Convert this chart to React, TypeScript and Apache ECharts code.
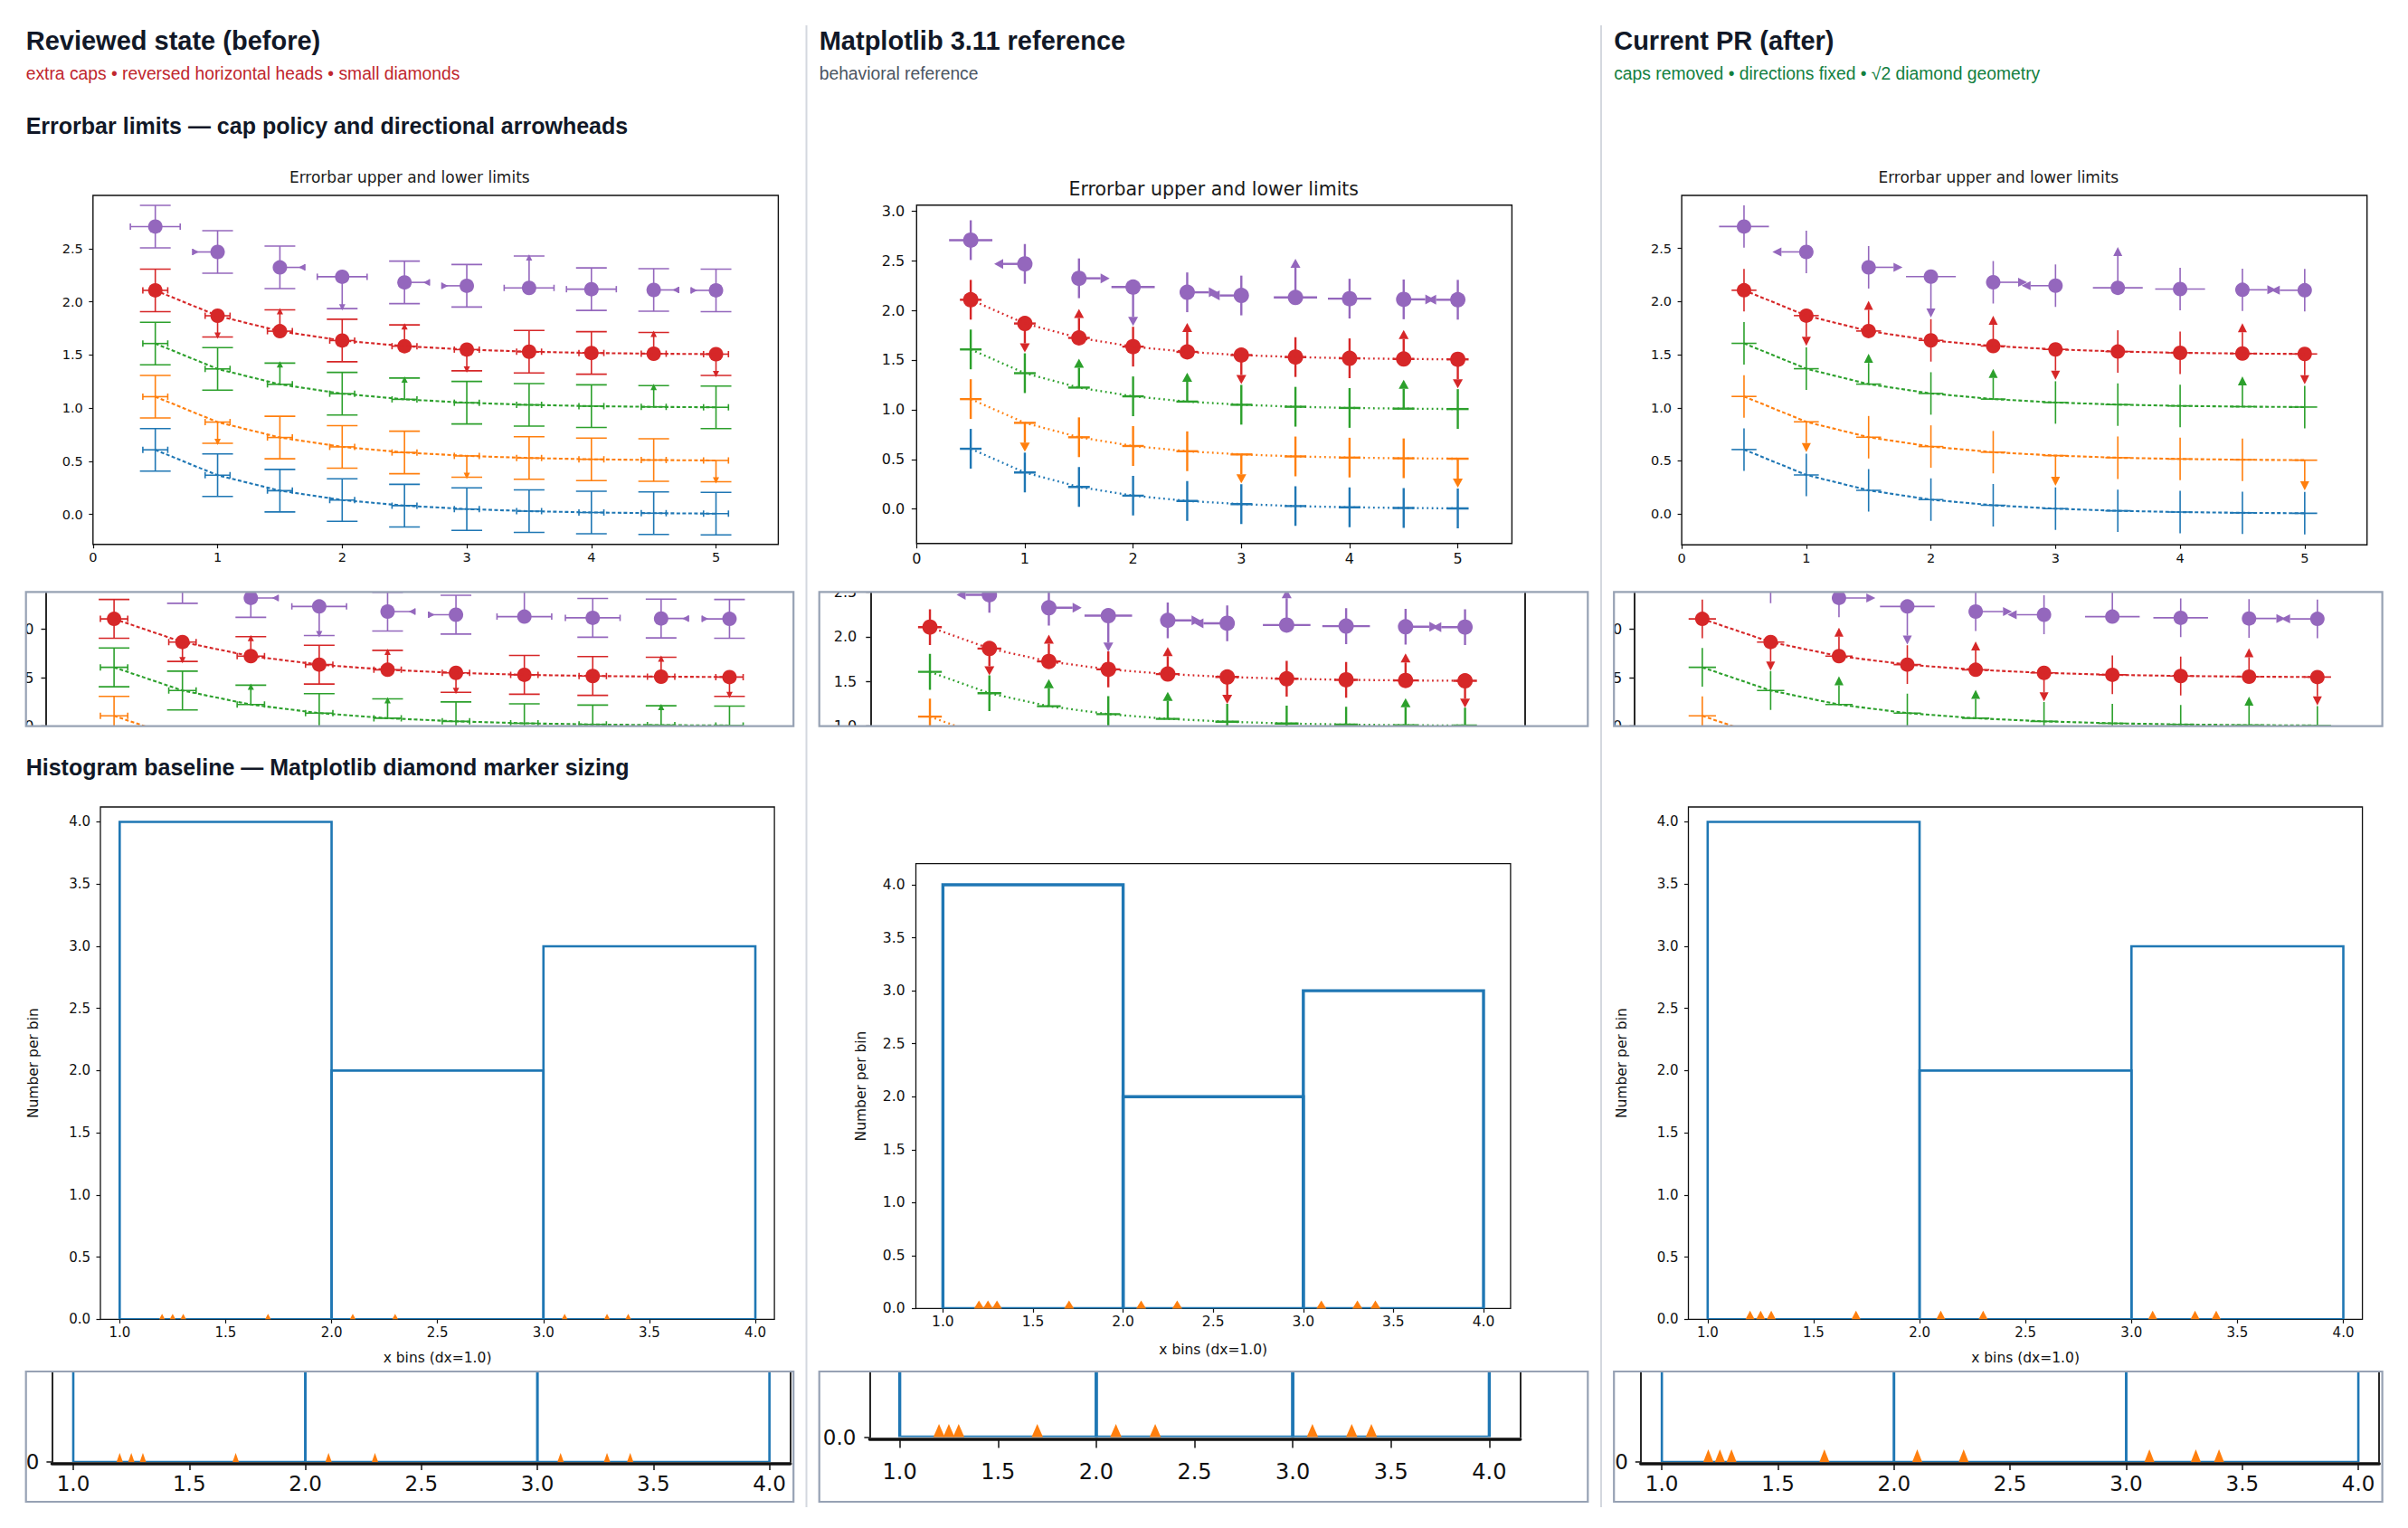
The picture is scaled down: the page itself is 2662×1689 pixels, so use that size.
import React, { useEffect, useRef } from "react";
import * as echarts from "echarts";

const PAGE_W = 2662;
const PAGE_H = 1689;

// ---------------- data: errorbar limits ----------------
const xValues = [0.5, 1.0, 1.5, 2.0, 2.5, 3.0, 3.5, 4.0, 4.5, 5.0];
const blueY = [0.607, 0.368, 0.223, 0.135, 0.082, 0.05, 0.03, 0.018, 0.011, 0.007];
const orangeY = [1.107, 0.868, 0.723, 0.635, 0.582, 0.55, 0.53, 0.518, 0.511, 0.507];
const greenY = [1.607, 1.368, 1.223, 1.135, 1.082, 1.05, 1.03, 1.018, 1.011, 1.007];
const redY = [2.107, 1.868, 1.723, 1.635, 1.582, 1.55, 1.53, 1.518, 1.511, 1.507];
const purpleY = [2.707, 2.468, 2.323, 2.235, 2.182, 2.15, 2.13, 2.118, 2.111, 2.107];
const xErrStd = 0.1;
const xErrPurple = 0.2;
const yErrStd = [0.2, 0.2, 0.2, 0.2, 0.2, 0.2, 0.2, 0.2, 0.2, 0.2];
const yErrPurple = [0.2, 0.2, 0.2, 0.3, 0.2, 0.2, 0.3, 0.2, 0.2, 0.2];
const noLimits = [0, 0, 0, 0, 0, 0, 0, 0, 0, 0];
const lowerLimits = [0, 0, 1, 0, 1, 0, 0, 0, 1, 0];
const upperLimits = [0, 1, 0, 0, 0, 1, 0, 0, 0, 1];
const purpleLower = [0, 0, 0, 0, 0, 0, 1, 0, 0, 0];
const purpleUpper = [0, 0, 0, 1, 0, 0, 0, 0, 0, 0];

// ---------------- data: histogram ----------------
const binEdges = [1, 2, 3, 4];
const binCounts = [4, 2, 3];
const samplePoints = [1.2, 1.25, 1.3, 1.7, 2.1, 2.3, 3.1, 3.3, 3.4];

// ---------------- tick labels ----------------
const ebXTicks = [0, 1, 2, 3, 4, 5];
const ebYTicks = [0, 0.5, 1, 1.5, 2, 2.5];
const ebYTicksRef = [0, 0.5, 1, 1.5, 2, 2.5, 3];
const ebInsetYTicks = [1, 1.5, 2];
const ebInsetYTicksRef = [1, 1.5, 2, 2.5];
const histXTicks = [1, 1.5, 2, 2.5, 3, 3.5, 4];
const histYTicks = [0, 0.5, 1, 1.5, 2, 2.5, 3, 3.5, 4];
const histInsetYTicks = [0];

// ---------------- texts ----------------
const columnTitles = ["Reviewed state (before)", "Matplotlib 3.11 reference", "Current PR (after)"];
const columnNotes = [
  "extra caps \u2022 reversed horizontal heads \u2022 small diamonds",
  "behavioral reference",
  "caps removed \u2022 directions fixed \u2022 \u221a2 diamond geometry",
];
const noteColors = ["#c0262d", "#4b5563", "#12803f"];
const sectionErrorbar = "Errorbar limits \u2014 cap policy and directional arrowheads";
const sectionHist = "Histogram baseline \u2014 Matplotlib diamond marker sizing";
const plotTitle = "Errorbar upper and lower limits";
const histXName = "x bins (dx=1.0)";
const histYName = "Number per bin";

const COLORS = ["#1f77b4", "#ff7f0e", "#2ca02c", "#d62728", "#9467bd"];

type Variant = "before" | "ref" | "after";

const ERR_SERIES = [
  { color: COLORS[0], y: blueY, xerr: xErrStd, yerr: yErrStd, lo: noLimits, up: noLimits, xlo: noLimits, xup: noLimits, marker: 0, line: true },
  { color: COLORS[1], y: orangeY, xerr: xErrStd, yerr: yErrStd, lo: noLimits, up: upperLimits, xlo: noLimits, xup: noLimits, marker: 0, line: true },
  { color: COLORS[2], y: greenY, xerr: xErrStd, yerr: yErrStd, lo: lowerLimits, up: noLimits, xlo: noLimits, xup: noLimits, marker: 0, line: true },
  { color: COLORS[3], y: redY, xerr: xErrStd, yerr: yErrStd, lo: lowerLimits, up: upperLimits, xlo: noLimits, xup: noLimits, marker: 1, line: true },
  { color: COLORS[4], y: purpleY, xerr: xErrPurple, yerr: yErrPurple, lo: purpleLower, up: purpleUpper, xlo: lowerLimits, xup: upperLimits, marker: 1, line: false },
];

const VSTYLE: Record<Variant, any> = {
  before: { lw: 1.6, caps: true, cap: 17, xcap: 3.5, arrowL: 7, arrowH: 3.5, mr: 8, dash: [4, 2.5], dashW: 2.1, reversedX: true },
  ref: { lw: 2.4, caps: false, cap: 0, xcap: 0, arrowL: 10, arrowH: 5.5, mr: 8.5, dash: [1.8, 3.6], dashW: 2.3, reversedX: false },
  after: { lw: 1.6, caps: false, cap: 0, xcap: 0, arrowL: 10, arrowH: 5, mr: 8, dash: [4, 2.5], dashW: 2.1, reversedX: false },
};

const HSTYLE: Record<Variant, any> = {
  before: { lw: 2.6, half: 3.2, h: 6, insetHalf: 3.5, insetH: 10 },
  ref: { lw: 3.4, half: 5.5, h: 9, insetHalf: 6.3, insetH: 14.5 },
  after: { lw: 2.6, half: 5, h: 9.5, insetHalf: 5.5, insetH: 14 },
};

const FONT_UI = "'Liberation Sans', Arial, Helvetica, sans-serif";
const FONT_MPL = "'DejaVu Sans', sans-serif";

function errRender(vs: any) {
  return function (_params: any, api: any) {
    const x = api.value(0), y = api.value(1), xe = api.value(2), ye = api.value(3);
    const lo = api.value(4), up = api.value(5), xlo = api.value(6), xup = api.value(7), mk = api.value(8);
    const color = api.visual("color");
    const p = api.coord([x, y]);
    const yT = api.coord([x, y + ye])[1];
    const yB = api.coord([x, y - ye])[1];
    const xL = api.coord([x - xe, y])[0];
    const xR = api.coord([x + xe, y])[0];
    const kids: any[] = [];
    const seg = (x1: number, y1: number, x2: number, y2: number) =>
      kids.push({ type: "line", shape: { x1, y1, x2, y2 }, style: { stroke: color, lineWidth: vs.lw } });
    const tri = (pts: number[][]) => kids.push({ type: "polygon", shape: { points: pts }, style: { fill: color } });
    const goUp = !up || lo;
    const goDown = !lo || up;
    const goRight = !xup || xlo;
    const goLeft = !xlo || xup;
    seg(p[0], goUp ? yT : p[1], p[0], goDown ? yB : p[1]);
    seg(goLeft ? xL : p[0], p[1], goRight ? xR : p[0], p[1]);
    if (vs.caps) {
      if (goUp) seg(p[0] - vs.cap, yT, p[0] + vs.cap, yT);
      if (goDown) seg(p[0] - vs.cap, yB, p[0] + vs.cap, yB);
      if (goLeft) seg(xL, p[1] - vs.xcap, xL, p[1] + vs.xcap);
      if (goRight) seg(xR, p[1] - vs.xcap, xR, p[1] + vs.xcap);
    }
    const L = vs.arrowL, h = vs.arrowH;
    if (vs.reversedX) {
      if (lo) tri([[p[0] - h, yT + L - 2], [p[0] + h, yT + L - 2], [p[0], yT - 2]]);
      if (up) tri([[p[0] - h, yB - L + 2], [p[0] + h, yB - L + 2], [p[0], yB + 2]]);
      if (xlo) tri([[xR, p[1] - h], [xR, p[1] + h], [xR - L, p[1]]]);
      if (xup) tri([[xL, p[1] - h], [xL, p[1] + h], [xL + L, p[1]]]);
    } else {
      if (lo) tri([[p[0] - h, yT], [p[0] + h, yT], [p[0], yT - L]]);
      if (up) tri([[p[0] - h, yB], [p[0] + h, yB], [p[0], yB + L]]);
      if (xlo) tri([[xR, p[1] - h], [xR, p[1] + h], [xR + L, p[1]]]);
      if (xup) tri([[xL, p[1] - h], [xL, p[1] + h], [xL - L, p[1]]]);
    }
    if (mk) kids.push({ type: "circle", shape: { cx: p[0], cy: p[1], r: vs.mr }, style: { fill: color } });
    return { type: "group", children: kids };
  };
}

function barRender(lw: number) {
  return function (_params: any, api: any) {
    const a = api.coord([api.value(0), 0]);
    const b = api.coord([api.value(1), api.value(2)]);
    return {
      type: "polygon",
      shape: { points: [[a[0], a[1]], [a[0], b[1]], [b[0], b[1]], [b[0], a[1]]] },
      style: { stroke: COLORS[0], fill: "none", lineWidth: lw, lineJoin: "miter" },
    };
  };
}

function halfDiamondRender(half: number, h: number) {
  return function (_params: any, api: any) {
    const p = api.coord([api.value(0), api.value(1)]);
    return {
      type: "polygon",
      shape: { points: [[p[0] - half, p[1]], [p[0], p[1] - h], [p[0] + half, p[1]]] },
      style: { fill: COLORS[1] },
    };
  };
}

type Box = { l: number; t: number; r: number; b: number };

const COL_X = [28.7, 905.7, 1784.2];
const COL_SHIFT = 1755.5;

function buildOption() {
  const grids: any[] = [];
  const xAxes: any[] = [];
  const yAxes: any[] = [];
  const series: any[] = [];

  const addGrid = (bx: Box, border: boolean, bw = 1.3) => {
    grids.push({
      left: bx.l, top: bx.t, width: bx.r - bx.l, height: bx.b - bx.t,
      show: border, borderColor: "#111", borderWidth: bw, backgroundColor: "transparent",
      containLabel: false, outerBoundsMode: "none",
    });
    return grids.length - 1;
  };

  const lbl = (size: number, margin: number, values: number[], fmt: (v: number) => string, extra: any = {}) => ({
    show: true, customValues: values, formatter: fmt, fontSize: size, fontFamily: FONT_MPL, color: "#111", margin, ...extra,
  });
  const tick = (values: number[], len: number, w = 1.2) => ({
    show: true, customValues: values, length: len, inside: false, lineStyle: { color: "#111", width: w },
  });
  const hiddenLine = { show: false, onZero: false };
  const f1 = (v: number) => v.toFixed(1);
  const f0 = (v: number) => String(Math.round(v));

  const addErrSeries = (xi: number, yi: number, v: Variant) => {
    const vs = VSTYLE[v];
    ERR_SERIES.forEach((s) => {
      if (s.line) {
        series.push({
          type: "line", xAxisIndex: xi, yAxisIndex: yi, silent: true, animation: false,
          data: xValues.map((x, i) => [x, s.y[i]]), symbol: "none", clip: true,
          lineStyle: { color: s.color, width: vs.dashW, type: vs.dash },
        });
      }
      series.push({
        type: "custom", xAxisIndex: xi, yAxisIndex: yi, silent: true, clip: true,
        itemStyle: { color: s.color },
        encode: { x: 0, y: 1 },
        data: xValues.map((x, i) => [x, s.y[i], s.xerr, s.yerr[i], s.lo[i], s.up[i], s.xlo[i], s.xup[i], s.marker]),
        renderItem: errRender(vs),
      });
    });
  };

  const addHistSeries = (xi: number, yi: number, v: Variant, inset: boolean) => {
    const hs = HSTYLE[v];
    series.push({
      type: "custom", xAxisIndex: xi, yAxisIndex: yi, silent: true, clip: true,
      encode: { x: [0, 1], y: 2 },
      data: binCounts.map((c, i) => [binEdges[i], binEdges[i + 1], c]),
      renderItem: barRender(hs.lw),
    });
    series.push({
      type: "custom", xAxisIndex: xi, yAxisIndex: yi, silent: true, clip: false,
      encode: { x: 0, y: 1 },
      data: samplePoints.map((x) => [x, 0]),
      renderItem: halfDiamondRender(inset ? hs.insetHalf : hs.half, inset ? hs.insetH : hs.h),
    });
  };

  const variants: Variant[] = ["before", "ref", "after"];

  // ---------- main errorbar plots ----------
  const ebBoxes: Box[] = [
    { l: 102.8, t: 216, r: 860.4, b: 601.7 },
    { l: 1013.3, t: 226.7, r: 1671.4, b: 600.7 },
    { l: 102.8 + COL_SHIFT + 0.8, t: 216, r: 860.4 + COL_SHIFT + 0.8, b: 602.2 },
  ];
  const ebY = [[-0.282, 3.0], [-0.346, 3.06], [-0.29, 3.0]];
  variants.forEach((v, k) => {
    const isRef = v === "ref";
    const gi = addGrid(ebBoxes[k], true, 1.4);
    const fs = isRef ? 16 : 14.5;
    xAxes.push({
      type: "value", gridIndex: gi, min: 0, max: 5.5,
      axisLine: hiddenLine, splitLine: { show: false },
      axisTick: tick(ebXTicks, isRef ? 5.5 : 4.5), axisLabel: lbl(fs, isRef ? 9 : 7, ebXTicks, f0),
    });
    const yt = isRef ? ebYTicksRef : ebYTicks;
    yAxes.push({
      type: "value", gridIndex: gi, min: ebY[k][0], max: ebY[k][1],
      axisLine: hiddenLine, splitLine: { show: false },
      axisTick: tick(yt, isRef ? 5.5 : 4.5), axisLabel: lbl(fs, isRef ? 13 : 11, yt, f1),
    });
    addErrSeries(xAxes.length - 1, yAxes.length - 1, v);
  });

  // ---------- errorbar insets ----------
  const ebInsetBoxes: Box[] = [
    { l: 50.5, t: 654.3, r: 877.2, b: 802.7 },
    { l: 962.3, t: 654.3, r: 1685.3, b: 802.7 },
    { l: 1806.3, t: 654.3, r: 2633.6, b: 802.7 },
  ];
  const ebInsetX = [[0, 5.468], [0, 5.5], [0, 5.475]];
  const ebInsetY = [[1.0, 2.385], [1.0, 2.5], [1.0, 2.385]];
  variants.forEach((v, k) => {
    const isRef = v === "ref";
    const gi = addGrid(ebInsetBoxes[k], false);
    xAxes.push({
      type: "value", gridIndex: gi, min: ebInsetX[k][0], max: ebInsetX[k][1], show: false,
      axisLine: hiddenLine, axisTick: { show: false }, axisLabel: { show: false }, splitLine: { show: false },
    });
    const yt = isRef ? ebInsetYTicksRef : ebInsetYTicks;
    yAxes.push({
      type: "value", gridIndex: gi, min: ebInsetY[k][0], max: ebInsetY[k][1],
      axisLine: { show: true, onZero: false, lineStyle: { color: "#111", width: 1.8 } },
      splitLine: { show: false },
      axisTick: tick(yt, 5, 1.4), axisLabel: lbl(16, isRef ? 15 : 13, yt, f1),
    });
    const yi = yAxes.length - 1;
    if (isRef) {
      yAxes.push({
        type: "value", gridIndex: gi, position: "right", min: ebInsetY[k][0], max: ebInsetY[k][1],
        axisLine: { show: true, onZero: false, lineStyle: { color: "#111", width: 1.8 } },
        axisTick: { show: false }, axisLabel: { show: false }, splitLine: { show: false },
      });
    }
    addErrSeries(xAxes.length - 1, yi, v);
  });

  // ---------- main histograms ----------
  const histBoxes: Box[] = [
    { l: 111, t: 892, r: 856.1, b: 1458.3 },
    { l: 1012.5, t: 954.6, r: 1669.9, b: 1446.4 },
    { l: 111 + COL_SHIFT, t: 892, r: 856.1 + COL_SHIFT, b: 1458.3 },
  ];
  const histX = [[0.909, 4.09], [0.85, 4.15], [0.909, 4.09]];
  const histY = [[0, 4.12], [0, 4.2], [0, 4.12]];
  variants.forEach((v, k) => {
    const isRef = v === "ref";
    const gi = addGrid(histBoxes[k], true, 1.3);
    const fs = isRef ? 15.5 : 15;
    xAxes.push({
      type: "value", gridIndex: gi, min: histX[k][0], max: histX[k][1],
      axisLine: hiddenLine, splitLine: { show: false },
      axisTick: tick(histXTicks, 4.5), axisLabel: lbl(fs, 7, histXTicks, f1),
      name: histXName, nameLocation: "middle", nameGap: isRef ? 38 : 35,
      nameTextStyle: { fontSize: 15.5, fontFamily: FONT_MPL, color: "#111" },
    });
    yAxes.push({
      type: "value", gridIndex: gi, min: histY[k][0], max: histY[k][1],
      axisLine: hiddenLine, splitLine: { show: false },
      axisTick: tick(histYTicks, 4.5), axisLabel: lbl(fs, isRef ? 12 : 11, histYTicks, f1),
      name: histYName, nameLocation: "middle", nameGap: isRef ? 53 : 66,
      nameTextStyle: { fontSize: 15.5, fontFamily: FONT_MPL, color: "#111" },
    });
    addHistSeries(xAxes.length - 1, yAxes.length - 1, v, false);
  });

  // ---------- histogram insets ----------
  const histInsetBoxes: Box[] = [
    { l: 57.4, t: 1516, r: 873.7, b: 1616 },
    { l: 961.4, t: 1516, r: 1680.7, b: 1588.5 },
    { l: 1813.8, t: 1516, r: 2630.2, b: 1616 },
  ];
  const histInsetX = [[0.908, 4.09], [0.847, 4.158], [0.909, 4.09]];
  const histInsetY = [[0, 0.45], [0, 0.33], [0, 0.45]];
  variants.forEach((v, k) => {
    const isRef = v === "ref";
    const gi = addGrid(histInsetBoxes[k], false);
    xAxes.push({
      type: "value", gridIndex: gi, min: histInsetX[k][0], max: histInsetX[k][1], offset: 2,
      axisLine: { show: true, onZero: false, lineStyle: { color: "#111", width: 3.5 } },
      splitLine: { show: false },
      axisTick: tick(histXTicks, isRef ? 10 : 7, 1.5),
      axisLabel: lbl(isRef ? 24 : 23, isRef ? 24 : 10, histXTicks, f1),
    });
    yAxes.push({
      type: "value", gridIndex: gi, min: histInsetY[k][0], max: histInsetY[k][1],
      axisLine: { show: true, onZero: false, lineStyle: { color: "#111", width: 1.8 } },
      splitLine: { show: false },
      axisTick: tick(histInsetYTicks, 6, 1.5), axisLabel: lbl(23, isRef ? 15 : 14, histInsetYTicks, f1),
    });
    const yi = yAxes.length - 1;
    yAxes.push({
      type: "value", gridIndex: gi, position: "right", min: histInsetY[k][0], max: histInsetY[k][1],
      axisLine: { show: true, onZero: false, lineStyle: { color: "#111", width: 1.8 } },
      axisTick: { show: false }, axisLabel: { show: false }, splitLine: { show: false },
    });
    addHistSeries(xAxes.length - 1, yi, v, true);
  });

  // ---------- graphic: headings, masks, borders, dividers ----------
  const graphic: any[] = [];
  const text = (t: string, x: number, y: number, size: number, color: string, weight: string, family: string, align = "left") =>
    graphic.push({
      type: "text", x, y, z: 200, silent: true,
      style: { text: t, fontSize: size, fontWeight: weight, fontFamily: family, fill: color, align, verticalAlign: "middle" },
    });

  columnTitles.forEach((t, i) => text(t, COL_X[i], 45, 29, "#111827", "bold", FONT_UI));
  columnNotes.forEach((t, i) => text(t, COL_X[i], 81, 19.3, noteColors[i], "normal", FONT_UI));
  text(sectionErrorbar, COL_X[0], 138.5, 25, "#111827", "bold", FONT_UI);
  text(sectionHist, COL_X[0], 848, 25, "#111827", "bold", FONT_UI);
  text(plotTitle, 452.8, 196, 17, "#1a1a1a", "normal", FONT_MPL, "center");
  text(plotTitle, 1341.8, 209, 20.5, "#1a1a1a", "normal", FONT_MPL, "center");
  text(plotTitle, 2209.3, 196, 17, "#1a1a1a", "normal", FONT_MPL, "center");

  const insetFrames: Box[] = [
    { l: 28.7, t: 654.3, r: 877.2, b: 802.7 },
    { l: 905.7, t: 654.3, r: 1755.3, b: 802.7 },
    { l: 1784.2, t: 654.3, r: 2633.6, b: 802.7 },
    { l: 28.7, t: 1516, r: 877.2, b: 1660 },
    { l: 905.7, t: 1516, r: 1755.3, b: 1660 },
    { l: 1784.2, t: 1516, r: 2633.6, b: 1660 },
  ];
  insetFrames.forEach((f, i) => {
    const mask = (x: number, y: number, w: number, h: number) =>
      graphic.push({ type: "rect", z: 150, silent: true, shape: { x, y, width: w, height: h }, style: { fill: "#ffffff" } });
    mask(f.l - 24, f.t - (i < 3 ? 26 : 0), 24, f.b - f.t + (i < 3 ? 52 : 0));
    if (i < 3) {
      mask(f.l - 24, f.t - 26, f.r - f.l + 48, 26);
      mask(f.l - 24, f.b, f.r - f.l + 48, 24);
      mask(f.r, f.t - 26, 14, f.b - f.t + 52);
    }
  });
  insetFrames.forEach((f) =>
    graphic.push({
      type: "rect", z: 160, silent: true,
      shape: { x: f.l, y: f.t, width: f.r - f.l, height: f.b - f.t },
      style: { fill: "none", stroke: "#97a2b4", lineWidth: 2.2 },
    })
  );
  [891.5, 1770].forEach((x) =>
    graphic.push({
      type: "line", z: 160, silent: true,
      shape: { x1: x, y1: 28, x2: x, y2: 1666 },
      style: { stroke: "#d4d8df", lineWidth: 2 },
    })
  );

  return {
    animation: false,
    backgroundColor: "#ffffff",
    grid: grids,
    xAxis: xAxes,
    yAxis: yAxes,
    series,
    graphic,
  };
}

export default function App() {
  const ref = useRef<HTMLDivElement>(null);
  useEffect(() => {
    if (!ref.current) return;
    const chart = echarts.init(ref.current, undefined, { renderer: "svg", width: PAGE_W, height: PAGE_H });
    chart.setOption(buildOption() as any);
    return () => chart.dispose();
  }, []);
  return (
    <div
      ref={ref}
      style={{ position: "absolute", left: 0, top: 0, width: PAGE_W, height: PAGE_H, background: "#fff" }}
    />
  );
}
